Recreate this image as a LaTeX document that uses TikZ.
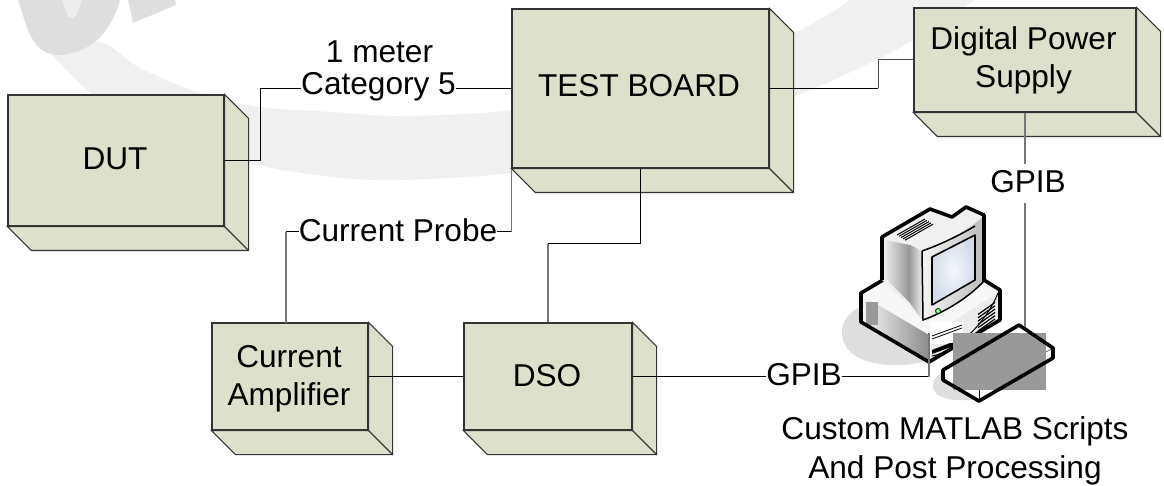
\documentclass[tikz,border=0pt]{standalone}
\usepackage{fontspec}
\setmainfont{Liberation Sans}
\definecolor{boxfill}{HTML}{DDE1CB}
\definecolor{wmA}{HTML}{DEDEDE}
\definecolor{wmB}{HTML}{F0F0F0}
\definecolor{lineg}{HTML}{777777}
\definecolor{patchgray}{HTML}{999999}
\definecolor{screenedge}{HTML}{D3DCEB}
\definecolor{screenmid}{HTML}{F4F6FA}
\tikzset{
  face/.style={draw=black!80,line width=1.1pt,fill=boxfill,line join=miter},
  front/.style={face,rectangle,inner sep=0pt},
  wire/.style={draw=black,line width=1pt},
  wireg/.style={draw=lineg,line width=1.5pt},
  txt/.style={font=\fontsize{31.6}{38}\selectfont,inner sep=0pt,text=black},
  lbl/.style={txt,text height=#1,text depth=0pt},
  pcline/.style={draw=black,line width=3.6pt,line join=round},
  thin pc/.style={draw=black,line width=1pt},
}
\newcommand\solidbox[5]{%
  \node[front,minimum width=#4pt,minimum height=#5pt] (#1) at (#2,#3) {};
  \draw[face] (#1.north east) -- ([shift={(24,24)}]#1.north east) -- ([shift={(24,24)}]#1.south east)
     -- ([shift={(24,24)}]#1.south west) -- (#1.south west) -- (#1.south east) -- cycle;
  \draw[face,fill=none] (#1.south east) -- ([shift={(24,24)}]#1.south east);
}
\begin{document}
\begin{tikzpicture}[x=1pt,y=-1pt]
\useasboundingbox (0,0) rectangle (1164,486);
% watermark
\fill[wmB] plot[smooth,tension=.5] coordinates {(50,50) (100,42) (140,68) (200,93) (260,107) (333,112) (400,116) (512,110) (650,82) (793,33) (850,0)}
  -- (975,0) -- plot[smooth,tension=.5] coordinates {(975,0) (913,40) (880,58) (793,97) (640,150) (512,173) (400,180) (333,177) (248,163) (133,127) (90,93) (52,55)} -- cycle;
\fill[wmA] (18,0) .. controls (28,30) and (32,55) .. (60,55) .. controls (90,52) and (110,35) .. (120,0) -- cycle;
\fill[white!93!black] (62,0) -- (68,16) .. controls (72,21) and (79,17) .. (81,0) -- cycle;
\fill[wmA] (128,0) -- (133,23) -- (176,5) -- (175,0) -- cycle;
% boxes
\solidbox{dut}{116}{160.5}{216}{131}
\solidbox{tb}{640.5}{88.5}{257}{159}
\solidbox{dps}{1025}{60}{222}{104}
\solidbox{amp}{290}{376.5}{156}{107}
\solidbox{dso}{548}{376.5}{168}{107}
% box texts
\node[txt,anchor=base] (dutt) at (115,170) {DUT};
\node[txt,anchor=base] (tbt) at (639,97) {TEST BOARD};
\node[txt,anchor=base] (dpst) at (1023.5,50) {Digital Power};
\node[txt,anchor=base] (dpst2) at (1023.5,88) {Supply};
\node[txt,anchor=base] (ampt) at (289,367) {Current};
\node[txt,anchor=base] (ampt2) at (289,405) {Amplifier};
\node[txt,anchor=base] (dsot) at (547,386) {DSO};
% labels
\node[txt,anchor=base] (m1) at (379.5,63) {1 meter};
\node[lbl=12pt] (cat) at (378.5,88.5) {Category 5};
\node[lbl=20pt] (probe) at (398,232) {Current Probe};
\node[lbl=18pt] (glow) at (804,376.5) {GPIB};
\node[txt,anchor=base] (gup) at (1028,193) {GPIB};
\node[txt,anchor=base] (c1) at (955,439) {Custom MATLAB Scripts};
\node[txt,anchor=base] (c2) at (955,478) {And Post Processing};
% computer shadows
\fill[wmA] (842,330) .. controls (843,318) and (852,310) .. (866,304) -- (930,340) -- (930,360) .. controls (900,370) and (840,368) .. (842,330) -- cycle;
\fill[wmA] (933,386) .. controls (933,376) and (942,372) .. (950,372) -- (985,398) .. controls (965,402) and (933,402) .. (933,386) -- cycle;
% base
\fill[white!97!black] (861,293) -- (883,280) -- (984,280) -- (1000,290) -- (1000,320) -- (929,362) -- (861,322) -- cycle;
\fill[white!92!black] (931,335) -- (998,293) -- (998,320) -- (931,360) -- cycle;
\shade[left color=white!96!black,right color=black!45] (863,296) -- (929,335) -- (929,360) -- (863,322) -- cycle;
\fill[patchgray] (866,302) rectangle (878,325);
\draw[pcline] (883,280) -- (861,293) -- (861,322) -- (929,362) -- (1000,320) -- (1000,290) -- (984,280);
\draw[thin pc] (932,356) .. controls (955,352) and (985,325) .. (998,293);
\fill[white] (930,322) rectangle (963,344);
\draw[draw=black,line width=.8pt] (932,336) -- (962,325) (932,339) -- (962,328);
\fill[black] (932,350) -- (950,343) -- (962,343) -- (932,354) -- cycle;
\foreach \yy in {0,1,2,3,4,5} \draw[draw=black,line width=1.2pt] (978,{331-\yy*3.3}) -- (995,{319-\yy*3.3});
% monitor
\fill[white!94!black] (882,280) -- (882,237) -- (930,209) -- (952,217) -- (966,207) -- (984,215) -- (984,281) -- (923,320) -- cycle;
\shade[left color=white!92!black,right color=black!42] (885,240) -- (910,245) -- (910,303) -- (885,278) -- cycle;
\shade[left color=white!62!black,right color=white!92!black] (910,245) -- (922,251) -- (922,320) -- (910,303) -- cycle;
\shade[left color=white!96!black,right color=white!74!black] (922,250) .. controls (945,243) and (965,232) .. (984,216) -- (984,281) .. controls (968,298) and (945,312) .. (923,320) -- cycle;
\shade[inner color=screenmid,outer color=screenedge] (932,257) -- (975,235) -- (975,280) -- (932,305) -- cycle;
\draw[thin pc,line width=1.6pt,line join=round] (932,257) -- (975,235) -- (975,280) -- (932,305) -- cycle;
\draw[thin pc,line width=1.5pt] (922,251) .. controls (945,243) and (965,232) .. (975,226);
\draw[thin pc,line width=1.5pt] (922,251) -- (923,320) .. controls (945,312) and (968,298) .. (984,281);
\foreach \yy in {0,1,2,3,4} \draw[draw=black,line width=1pt] ({897+\yy*2},{235+\yy*1.3}) -- ({925+\yy*2},{219+\yy*1.3});
\draw[draw=black!70!green,fill=white!70!green,line width=1pt] (938,311) circle (2.5);
\draw[pcline] (882,280) -- (882,237) -- (930,209) -- (952,217) -- (966,207) -- (984,215) -- (984,281);
% keyboard
\fill[white] (943,370) -- (1019,325) -- (1053,348) -- (1053,358) -- (979,401) -- (943,380) -- cycle;
\fill[patchgray] (953,333) rectangle (1046,390);
\draw[thin pc] (979,390) -- (979,401);
\draw[draw=black!60,line width=.8pt] (1046,352) -- (1053,348);
\draw[pcline] (943,370) -- (1019,325) -- (1053,348) -- (1053,358) -- (979,401) -- (943,380) -- cycle;
% connectors
\coordinate (ampin) at (286,323);
\coordinate (mid) at (600,244);
\coordinate (gupT) at (1025,164);
\coordinate (gupB) at (1025,203);
\coordinate (kb) at (1025,327);
\coordinate (pcin) at (929,333);
\coordinate (dutj) at (260,88.5);
\coordinate (psj) at (878,88.5);
\draw[wire] (dut.east) -| (dutj) -- (cat.west);
\draw[wire] (cat.east) -- (tb.west);
\draw[wire] (tb.east) -- (psj);
\draw[wire,draw=black!70] (psj) |- (dps.west);
\draw[wireg] (tb.south west) -- (tb.south west |- probe);
\draw[wire] (tb.south west |- probe) -- (probe.east);
\draw[wire] (probe.west) -- (ampin |- probe);
\draw[wireg] (ampin |- probe) -- (ampin);
\draw[wire] (tb.south) -- (tb.south |- mid) -- (dso.north |- mid);
\draw[wireg] (dso.north |- mid) -- (dso.north);
\draw[wire] (amp.east) -- (dso.west);
\draw[wire] (dso.east) -- (glow.west);
\draw[wire] (glow.east) -- (pcin |- glow);
\draw[wireg] (pcin |- glow) -- (pcin);
\draw[wireg] (dps.south) -- (gupT);
\draw[wireg] (gupB) -- (kb);
\end{tikzpicture}
\end{document}
